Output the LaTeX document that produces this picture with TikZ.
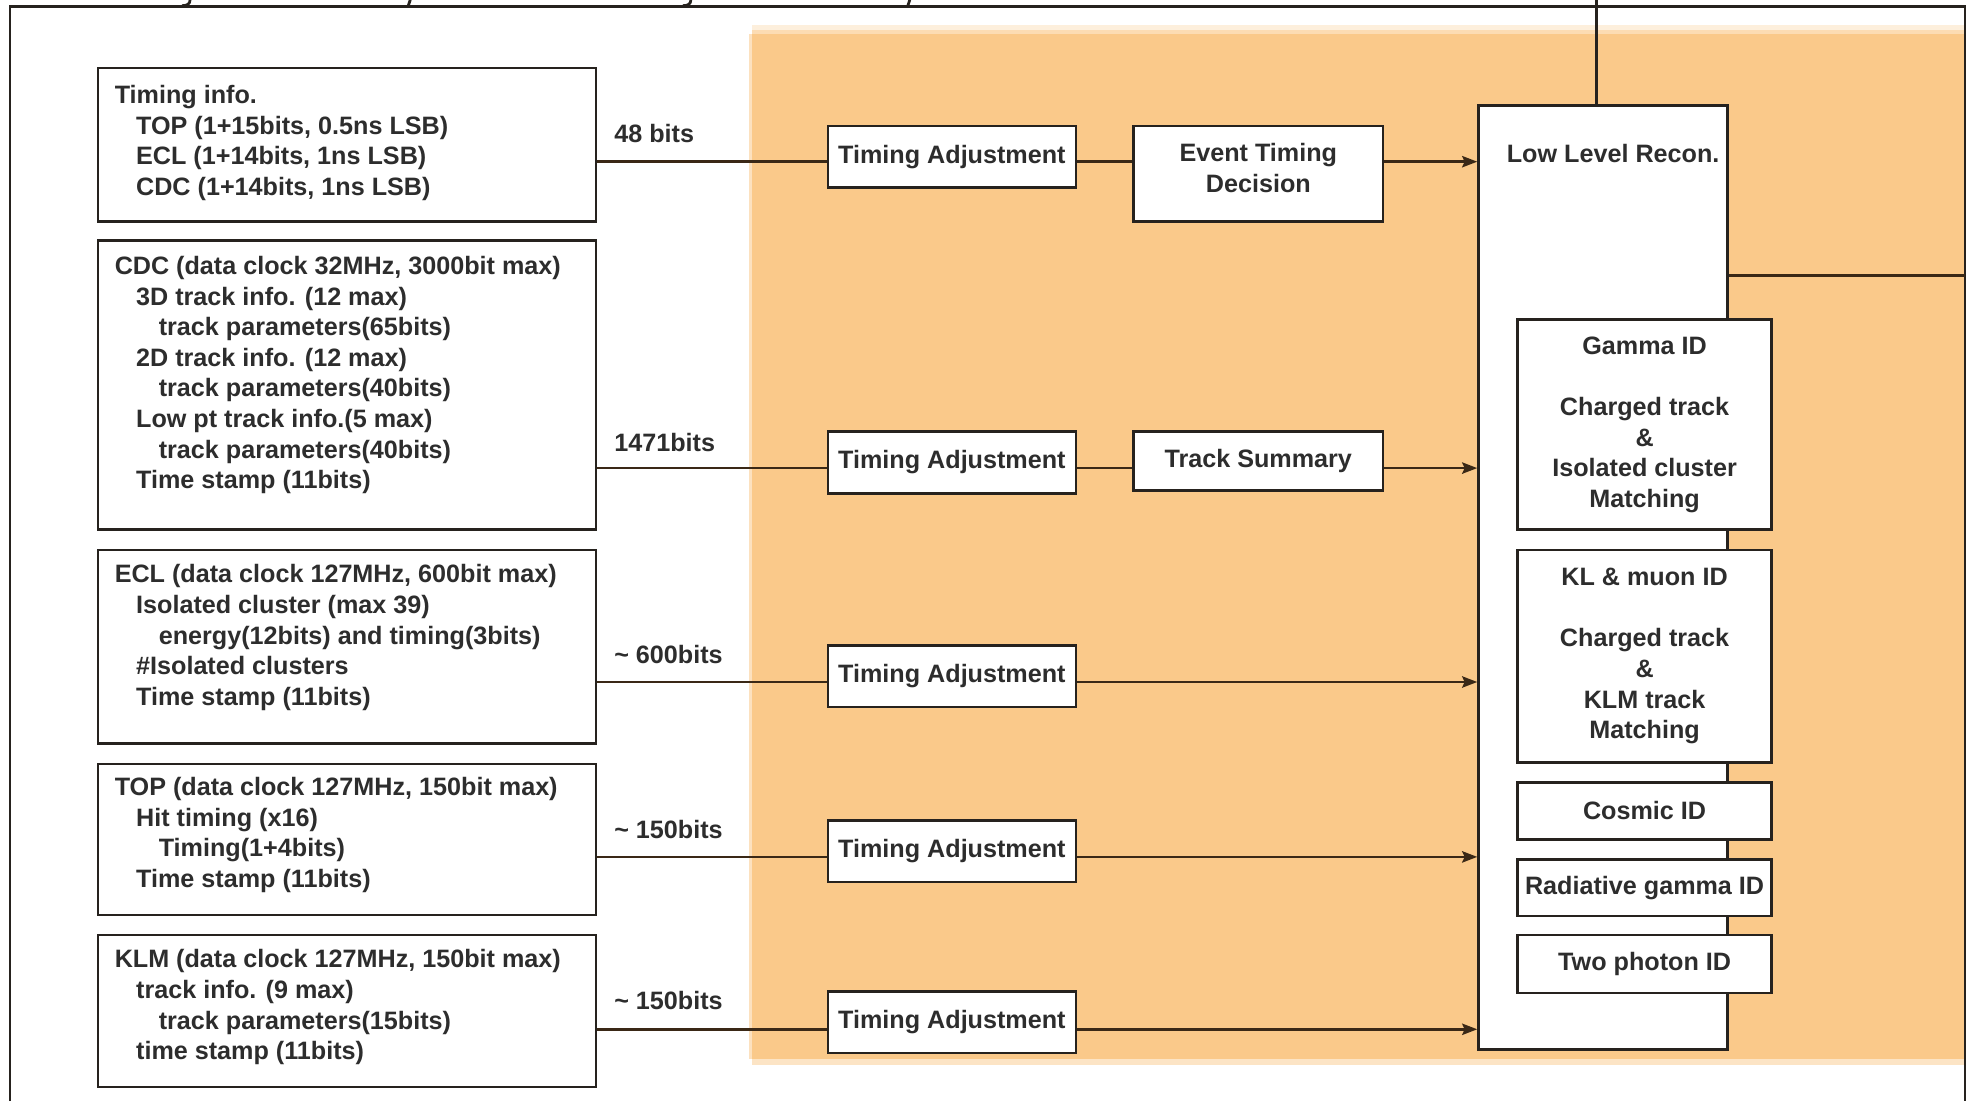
\documentclass[tikz,border=0pt]{standalone}
\usepackage{fontspec}
\setmainfont{Liberation Sans}
\usetikzlibrary{arrows.meta}
\definecolor{bgor}{RGB}{250,201,138}
\definecolor{ink}{RGB}{38,34,30}
\definecolor{wire}{RGB}{58,40,22}
\definecolor{txt}{RGB}{45,45,45}
\tikzset{
  every node/.style={font=\fontsize{20}{24.3}\selectfont\bfseries, text=txt},
  lbox/.style={draw=ink, line width=2pt, fill=white, inner sep=0pt, anchor=north west},
  ltext/.style={anchor=north west, inner sep=0pt, align=left},
  tabox/.style={draw=ink, line width=2pt, fill=white, inner sep=0pt, anchor=north west, minimum width=197pt, minimum height=49pt, align=center},
  sbox/.style={draw=ink, line width=2pt, fill=white, inner sep=0pt, anchor=north west, minimum width=202pt, align=center},
  wirel/.style={draw=wire, line width=2pt},
  arr/.style={wirel, -{Stealth[length=12pt,width=9pt,inset=2pt]}},
  lab/.style={anchor=west, inner sep=0pt},
  frag/.style={draw=ink, line width=2.2pt, line cap=round},
}
\begin{document}
\begin{tikzpicture}[x=1pt, y=-1pt]
\useasboundingbox (0,0) rectangle (1568,875);
\fill[white] (0,0) rectangle (1568,875);
% orange area
\fill[bgor!30] (598,20) rectangle (1561.5,23.5);
\fill[bgor!65] (598,23.5) rectangle (1561.5,27);
\fill[bgor!55] (595,27) rectangle (598,842);
\fill[bgor] (598,27) rectangle (1561.5,842);
\fill[bgor!50] (598,842) rectangle (1561.5,846);
% outer frame
\draw[draw=ink, line width=2pt] (8,875) -- (8,5) -- (1561.5,5) -- (1561.5,875);
% cut-off title fragments
\draw[frag] (151,0) .. controls (151,3) and (149,4.5) .. (145,4.5);
\draw[frag] (326,0) -- (324.5,4.5);
\draw[frag] (549,0) .. controls (549,3) and (547,4.5) .. (543,4.5);
\draw[frag] (723,0) -- (721.5,4.5);

% left info boxes
\node[lbox, minimum width=395.5pt, minimum height=122pt] (tinfo) at (77,53) {};
\node[lbox, minimum width=395.5pt, minimum height=230pt] (cdc) at (77,190) {};
\node[lbox, minimum width=395.5pt, minimum height=154pt] (ecl) at (77,436) {};
\node[lbox, minimum width=395.5pt, minimum height=120pt] (topb) at (77,606) {};
\node[lbox, minimum width=395.5pt, minimum height=121pt] (klm) at (77,742) {};

\node[ltext] (tinfoT) at (91,66.5) {\rule{0pt}{15.5pt}Timing info.\\
\hspace*{17pt}TOP (1+15bits, 0.5ns LSB)\\
\hspace*{17pt}ECL (1+14bits, 1ns LSB)\\
\hspace*{17pt}CDC (1+14bits, 1ns LSB)};
\node[ltext] (cdcT) at (91,202.5) {\rule{0pt}{15.5pt}CDC (data clock 32MHz, 3000bit max)\\
\hspace*{17pt}3D track info. (12 max)\\
\hspace*{35pt}track parameters(65bits)\\
\hspace*{17pt}2D track info. (12 max)\\
\hspace*{35pt}track parameters(40bits)\\
\hspace*{17pt}Low pt track info.(5 max)\\
\hspace*{35pt}track parameters(40bits)\\
\hspace*{17pt}Time stamp (11bits)};
\node[ltext] (eclT) at (91,447.5) {\rule{0pt}{15.5pt}ECL (data clock 127MHz, 600bit max)\\
\hspace*{17pt}Isolated cluster (max 39)\\
\hspace*{35pt}energy(12bits) and timing(3bits)\\
\hspace*{17pt}\#Isolated clusters\\
\hspace*{17pt}Time stamp (11bits)};
\node[ltext] (topT) at (91,616.5) {\rule{0pt}{15.5pt}TOP (data clock 127MHz, 150bit max)\\
\hspace*{17pt}Hit timing (x16)\\
\hspace*{35pt}Timing(1+4bits)\\
\hspace*{17pt}Time stamp (11bits)};
\node[ltext] (klmT) at (91,753.5) {\rule{0pt}{15.5pt}KLM (data clock 127MHz, 150bit max)\\
\hspace*{17pt}track info. (9 max)\\
\hspace*{35pt}track parameters(15bits)\\
\hspace*{17pt}time stamp (11bits)};

% bit-count labels
\node[lab] (l1) at (488,106) {48 bits};
\node[lab] (l2) at (488,352) {1471bits};
\node[lab] (l3) at (488,520) {\textasciitilde{} 600bits};
\node[lab] (l4) at (488,659) {\textasciitilde{} 150bits};
\node[lab] (l5) at (488,795) {\textasciitilde{} 150bits};

% processing boxes
\node[tabox] (ta1) at (657,99) {Timing Adjustment};
\node[tabox] (ta2) at (657,342) {Timing Adjustment};
\node[tabox] (ta3) at (657,512) {Timing Adjustment};
\node[tabox] (ta4) at (657,651) {Timing Adjustment};
\node[tabox] (ta5) at (657,787) {Timing Adjustment};
\node[tabox, minimum width=198pt, minimum height=76pt] (etd) at (900,99) {Event Timing\\Decision\rule[-9pt]{0pt}{9pt}};
\node[tabox, minimum width=198pt, minimum height=47pt] (ts) at (900,342) {Track Summary};

% low level reconstruction
\node[lbox, minimum width=198pt, minimum height=750pt] (llr) at (1174,83) {};
\node[inner sep=0pt] (llrT) at (1282,122) {Low Level Recon.};
\node[sbox, minimum height=167pt] (gam) at (1205,253) {Gamma ID\\[24.3pt]Charged track\\\&\\Isolated cluster\\Matching};
\node[sbox, minimum height=169pt] (klid) at (1205,436) {KL \& muon ID\\[24.3pt]Charged track\\\&\\KLM track\\Matching};
\node[sbox, minimum height=45pt] (cos) at (1205,621) {Cosmic ID};
\node[sbox, minimum height=45pt] (rad) at (1205,682) {Radiative gamma ID};
\node[sbox, minimum height=46pt] (two) at (1205,742) {Two photon ID};

% row coordinates
\coordinate (r1) at (0,128.5);
\coordinate (r2) at (0,372);
\coordinate (r3) at (0,542);
\coordinate (r4) at (0,681);
\coordinate (r5) at (0,818);
\coordinate (rout) at (1561.5,219);
\coordinate (tout) at (1269,0);

% connectors
\draw[wirel] (tinfo.east |- r1) -- (ta1.west |- r1);
\draw[wirel] (ta1.east |- r1) -- (etd.west |- r1);
\draw[arr] (etd.east |- r1) -- (llr.west |- r1);
\draw[wirel] (cdc.east |- r2) -- (ta2.west |- r2);
\draw[wirel] (ta2.east |- r2) -- (ts.west |- r2);
\draw[arr] (ts.east |- r2) -- (llr.west |- r2);
\draw[wirel] (ecl.east |- r3) -- (ta3.west |- r3);
\draw[arr] (ta3.east |- r3) -- (llr.west |- r3);
\draw[wirel] (topb.east |- r4) -- (ta4.west |- r4);
\draw[arr] (ta4.east |- r4) -- (llr.west |- r4);
\draw[wirel] (klm.east |- r5) -- (ta5.west |- r5);
\draw[arr] (ta5.east |- r5) -- (llr.west |- r5);
\draw[wirel] (llr.east |- rout) -- (rout);
\draw[wirel, draw=ink, line width=2.6pt] (tout) -- (tout |- llr.north);
\end{tikzpicture}
\end{document}
